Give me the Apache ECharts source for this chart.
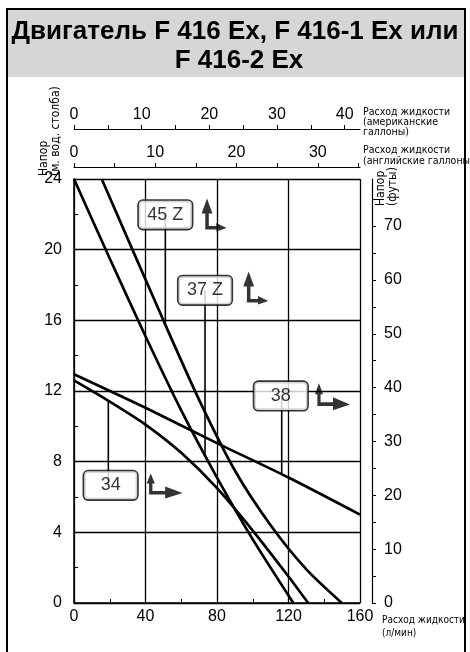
<!DOCTYPE html>
<html>
<head>
<meta charset="utf-8">
<script src="https://cdn.jsdelivr.net/npm/echarts@6/dist/echarts.min.js"></script>
<style>
  html, body { margin: 0; padding: 0; background: #fff; }
  #chart { width: 470px; height: 652px; }
</style>
</head>
<body>
<div id="chart"></div>
<script>
// Pump curves: flow in l/min, head in metres of water column
const flow45Z = [15.5, 50, 70, 90, 110, 130, 149.8];
const head45Z = [24, 16, 11.5, 7.5, 4.4, 1.9, 0];

const flow37Z = [0, 20, 40, 60, 80, 100, 122.7];
const head37Z = [24, 19.5, 15.1, 10.9, 7.1, 3.6, 0];

const flow38 = [0, 40, 80, 120, 160];
const head38 = [12.95, 11.05, 9.05, 7.1, 5.0];

const flow34 = [0, 20, 40, 60, 80, 100, 120, 131];
const head34 = [12.6, 11.4, 10.1, 8.5, 6.5, 4.1, 1.5, 0];

const curveNames = ['45 Z', '37 Z', '38', '34'];

// Unit conversions for the secondary scales
const LPM_PER_US_GAL = 3.78541;
const LPM_PER_UK_GAL = 4.54609;
const M_PER_FT = 0.3048;

const zip = (xs, ys) => xs.map((x, i) => [x, ys[i]]);
function headAt(xs, ys, x) {
  for (let i = 0; i < xs.length - 1; i++) {
    if (x >= xs[i] && x <= xs[i + 1]) {
      const t = (x - xs[i]) / (xs[i + 1] - xs[i]);
      return ys[i] + t * (ys[i + 1] - ys[i]);
    }
  }
  return ys[ys.length - 1];
}

// Callout boxes: box centre, leader x and the curve it points to
const callouts = [
  { name: '45 Z', box: [51.1, 21.97], leaderX: 51.1, flow: flow45Z, head: head45Z },
  { name: '37 Z', box: [73.3, 17.7], leaderX: 73.3, flow: flow37Z, head: head37Z },
  { name: '38', box: [115.7, 11.72], leaderX: 116.2, flow: flow38, head: head38 },
  { name: '34', box: [20.5, 6.66], leaderX: 19.2, flow: flow34, head: head34 }
];

// Direction pictograms next to each callout
const TALL_ICON = 'path://M5 0 L10.5 15 L6.8 15 L6.8 27.5 L14.5 27.5 L14.5 24.5 L25 29.5 L14.5 33 L14.5 31 L3.2 31 L3.2 15 L-0.5 15 Z';
const WIDE_ICON = 'path://M5 0 L9 10 L6.6 10 L6.6 17.5 L19 17.5 L19 13 L36 19.5 L19 25 L19 21 L3.4 21 L3.4 10 L1 10 Z';
const icons = [
  { at: [78.4, 21.96], symbol: TALL_ICON, size: [25, 33] },
  { at: [101.7, 17.83], symbol: TALL_ICON, size: [25, 33] },
  { at: [144.6, 11.67], symbol: WIDE_ICON, size: [35, 27] },
  { at: [50.7, 6.62], symbol: WIDE_ICON, size: [36, 25] }
];

const FONT = '"Liberation Sans", Arial, sans-serif';
const NARROW = '"Liberation Sans Narrow", "DejaVu Sans Condensed", "Liberation Sans", sans-serif';
const BLACK = '#000';

const chart = echarts.init(document.getElementById('chart'), null, { renderer: 'canvas' });

const tenOnly = v => (Math.abs(v % 10) < 1e-6 ? String(v) : '');

const curveSeries = [
  zip(flow45Z, head45Z), zip(flow37Z, head37Z), zip(flow38, head38), zip(flow34, head34)
].map((data, i) => ({
  type: 'line',
  name: curveNames[i],
  data,
  symbol: 'none',
  smooth: 0.25,
  lineStyle: { color: BLACK, width: 2.7 },
  z: 3,
  silent: true
}));

const leaderSeries = callouts.map(c => ({
  type: 'line',
  data: [[c.leaderX, headAt(c.flow, c.head, c.leaderX)], [c.leaderX, c.box[1]]],
  symbol: 'none',
  lineStyle: { color: BLACK, width: 1.6 },
  z: 4,
  silent: true
}));

const boxSeries = {
  type: 'scatter',
  data: callouts.map(c => ({ name: c.name, value: c.box })),
  symbol: 'circle',
  symbolSize: 1,
  itemStyle: { color: 'rgba(0,0,0,0)' },
  z: 6,
  label: {
    show: true,
    position: 'inside',
    formatter: p => p.name,
    color: BLACK,
    fontFamily: FONT,
    fontSize: 18,
    width: 37,
    align: 'center',
    verticalAlign: 'middle',
    lineHeight: 20,
    padding: [4, 8],
    backgroundColor: '#fff',
    borderColor: BLACK,
    borderWidth: 1.6,
    borderRadius: 4
  },
  silent: true
};

const iconSeries = {
  type: 'scatter',
  data: icons.map(ic => ({ value: ic.at, symbol: ic.symbol, symbolSize: ic.size })),
  itemStyle: { color: BLACK },
  z: 6,
  silent: true
};

const topAxis = (max, offset, margin) => ({
  type: 'value',
  position: 'top',
  offset,
  min: 0,
  max,
  interval: 5,
  axisLine: { show: true, onZero: false, lineStyle: { color: BLACK, width: 1.2 } },
  axisTick: { show: true, length: 4, lineStyle: { color: BLACK } },
  axisLabel: { formatter: tenOnly, color: BLACK, fontSize: 16, fontFamily: FONT, margin, showMaxLabel: false },
  splitLine: { show: false }
});

const option = {
  animation: false,
  backgroundColor: '#fff',
  grid: { left: 74, top: 179, width: 286, height: 424, containLabel: false },
  xAxis: [
    {
      type: 'value',
      position: 'bottom',
      min: 0, max: 160, interval: 40,
      axisLine: { show: true, onZero: false, lineStyle: { color: BLACK, width: 1.5 } },
      axisTick: { show: true, inside: true, length: 4, lineStyle: { color: BLACK } },
      minorTick: { show: true, splitNumber: 2, length: 4, lineStyle: { color: BLACK } },
      splitLine: { show: true, lineStyle: { color: BLACK, width: 1.3 } },
      axisLabel: { color: BLACK, fontSize: 16, fontFamily: FONT, margin: 6 }
    },
    topAxis(160 / LPM_PER_UK_GAL, 12, 6),
    topAxis(160 / LPM_PER_US_GAL, 50, 6)
  ],
  yAxis: [
    {
      type: 'value',
      position: 'left',
      min: 0, max: 24, interval: 4,
      axisLine: { show: true, onZero: false, lineStyle: { color: BLACK, width: 1.5 } },
      axisTick: { show: true, inside: true, length: 4, lineStyle: { color: BLACK } },
      minorTick: { show: true, splitNumber: 2, length: 4, lineStyle: { color: BLACK } },
      splitLine: { show: true, lineStyle: { color: BLACK, width: 1.3 } },
      axisLabel: { color: BLACK, fontSize: 16, fontFamily: FONT, margin: 12 }
    },
    {
      type: 'value',
      position: 'right',
      offset: 12,
      min: 0, max: 24 / M_PER_FT, interval: 5,
      axisLine: { show: true, onZero: false, lineStyle: { color: BLACK, width: 1.2 } },
      axisTick: { show: true, length: 4, lineStyle: { color: BLACK } },
      axisLabel: { formatter: tenOnly, color: BLACK, fontSize: 16, fontFamily: FONT, margin: 12, showMaxLabel: false },
      splitLine: { show: false }
    }
  ],
  series: [...curveSeries, ...leaderSeries, boxSeries, iconSeries],
  graphic: [
    { type: 'rect', z: 0, shape: { x: 8, y: 10, width: 456, height: 67 }, style: { fill: '#d6d6d6' } },
    { type: 'rect', z: 100, shape: { x: 7, y: 9, width: 458, height: 660 }, style: { fill: 'none', stroke: BLACK, lineWidth: 2 } },
    {
      type: 'text', z: 1, x: 235, y: 32,
      style: { text: 'Двигатель F 416 Ex, F 416-1 Ex или', font: 'bold 26px ' + FONT, fill: BLACK, align: 'center', verticalAlign: 'middle' }
    },
    {
      type: 'text', z: 1, x: 239, y: 61,
      style: { text: 'F 416-2 Ex', font: 'bold 26px ' + FONT, fill: BLACK, align: 'center', verticalAlign: 'middle' }
    },
    {
      type: 'text', z: 1, x: 363, y: 107,
      style: { text: 'Расход жидкости\n(американские\nгаллоны)', font: '10.5px ' + NARROW, lineHeight: 10, fill: BLACK, align: 'left', verticalAlign: 'top' }
    },
    {
      type: 'text', z: 1, x: 363, y: 145,
      style: { text: 'Расход жидкости\n(английские галлоны)', font: '10.5px ' + NARROW, lineHeight: 11, fill: BLACK, align: 'left', verticalAlign: 'top' }
    },
    {
      type: 'text', z: 1, x: 382, y: 614,
      style: { text: 'Расход жидкости\n(л/мин)', font: '10px ' + NARROW, lineHeight: 13, fill: BLACK, align: 'left', verticalAlign: 'top' }
    },
    {
      type: 'text', z: 1, x: 38, y: 176, rotation: Math.PI / 2,
      style: { text: 'Напор\n(м. вод. столба)', font: '12px ' + NARROW, lineHeight: 12, fill: BLACK, align: 'left', verticalAlign: 'top' }
    },
    {
      type: 'text', z: 1, x: 375, y: 206, rotation: Math.PI / 2,
      style: { text: 'Напор\n(футы)', font: '12px ' + NARROW, lineHeight: 12, fill: BLACK, align: 'left', verticalAlign: 'top' }
    }
  ]
};

chart.setOption(option);
</script>
</body>
</html>
